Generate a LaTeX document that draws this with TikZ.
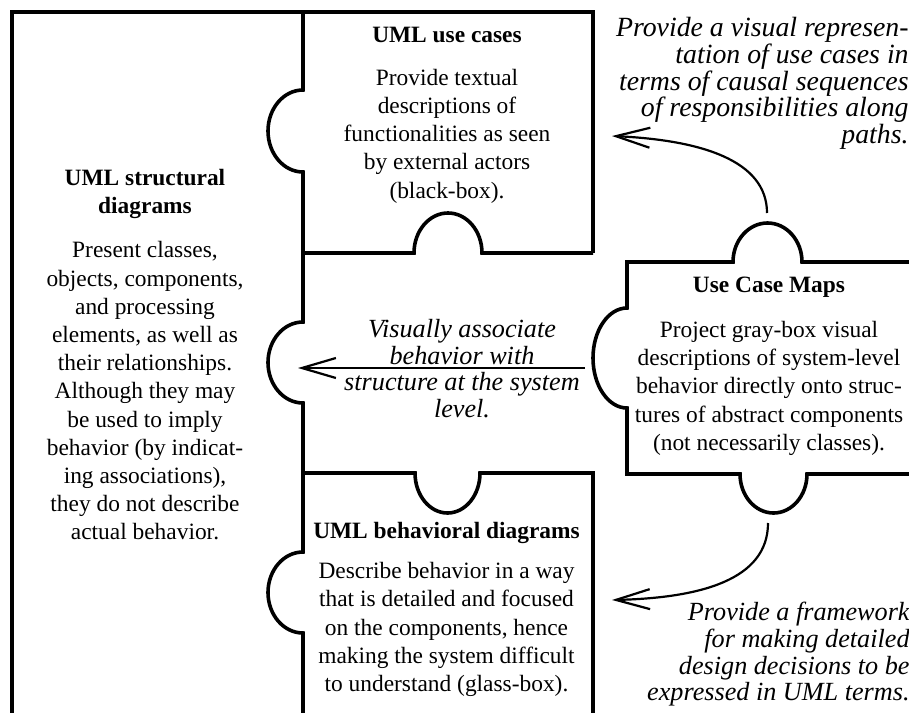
\documentclass[tikz,border=0pt]{standalone}
\usepackage{fontspec}
\setmainfont{Liberation Serif}
\usetikzlibrary{arrows.meta}

\begin{document}
\begin{tikzpicture}[
    x=0.5pt, y=-0.5pt,
    piece/.style={line width=1.8pt},
    txt/.style={align=center, inner sep=0pt, anchor=north, font=\fontsize{11.7}{14.1}\selectfont},
    note/.style={inner sep=0pt, anchor=north, font=\fontsize{13.1}{13.35}\selectfont\itshape},
    arrow/.style={-{Straight Barb[length=17pt, width=10pt]}, line width=1.1pt}
]
    \useasboundingbox (0,0) rectangle (909,712);
    \clip (0,0) rectangle (909,712);

    \draw[piece] (12,730) -- (12,12) -- (593,12) -- (593,253);
    \draw[piece] (303,12) -- (303,90) arc[start angle=270, end angle=90, x radius=35, y radius=41]
        -- (303,322) arc[start angle=270, end angle=90, x radius=35, y radius=40.5]
        -- (303,552) arc[start angle=270, end angle=90, x radius=35, y radius=40.5] -- (303,730);
    \draw[piece] (303,253) -- (414,253) arc[start angle=180, end angle=360, x radius=34, y radius=40] -- (593,253);
    \draw[piece] (303,473) -- (415,473) arc[start angle=180, end angle=0, x radius=32.5, y radius=40] -- (593,473) -- (593,730);
    \draw[piece] (930,474) -- (807,474) arc[start angle=0, end angle=180, x radius=33.5, y radius=39]
        -- (627,474) -- (627,408) arc[start angle=90, end angle=270, x radius=34, y radius=50]
        -- (627,262) -- (733,262) arc[start angle=180, end angle=360, x radius=34.5, y radius=39] -- (930,262);

    \node[txt] (structural) at (145,169) {\textbf{UML structural}\\\textbf{diagrams}\\[7.9pt] Present classes,\\objects, components,\\and processing\\elements, as well as\\their relationships.\\Although they may\\be used to imply\\behavior (by indicat-\\ing associations),\\they do not describe\\actual behavior.};
    \node[txt] (usecases) at (447,26.5) {\textbf{UML use cases}\\[7.4pt] Provide textual\\descriptions of\\functionalities as seen\\by external actors\\(black-box).};
    \node[txt] (behavioral) at (446.5,522) {\textbf{UML behavioral diagrams}\\[5.9pt] Describe behavior in a way\\that is detailed and focused\\on the components, hence\\making the system difficult\\to understand (glass-box).};
    \node[txt] (ucm) at (769,276.5) {\textbf{Use Case Maps}\\[8.4pt] Project gray-box visual\\descriptions of system-level\\behavior directly onto struc-\\tures of abstract components\\(not necessarily classes).};

    \node[note, align=center] (associate) at (462,319) {Visually associate\\behavior with\\structure at the system\\level.};
    \node[note, align=right, anchor=north east, font=\fontsize{13.9}{13.35}\selectfont\itshape] (represent) at (909,17) {Provide a visual represen-\\tation of use cases in\\terms of causal sequences\\of responsibilities along\\paths.};
    \node[note, align=right, anchor=north east] (framework) at (910,602) {Provide a framework\\for making detailed\\design decisions to be\\expressed in UML terms.};

    \coordinate (ucmup) at (767,213);
    \coordinate (ucmdown) at (768,523);
    \coordinate (ucmleft) at (585,368);
    \coordinate (toucase) at (612,136);
    \coordinate (tobehav) at (612,600);
    \coordinate (tostruct) at (298,368);

    \draw[arrow] (ucmup) .. controls (767,160) and (700,140) .. (toucase);
    \draw[arrow] (ucmleft) -- (tostruct);
    \draw[arrow] (ucmdown) .. controls (768,580) and (700,598) .. (tobehav);
\end{tikzpicture}
\end{document}
